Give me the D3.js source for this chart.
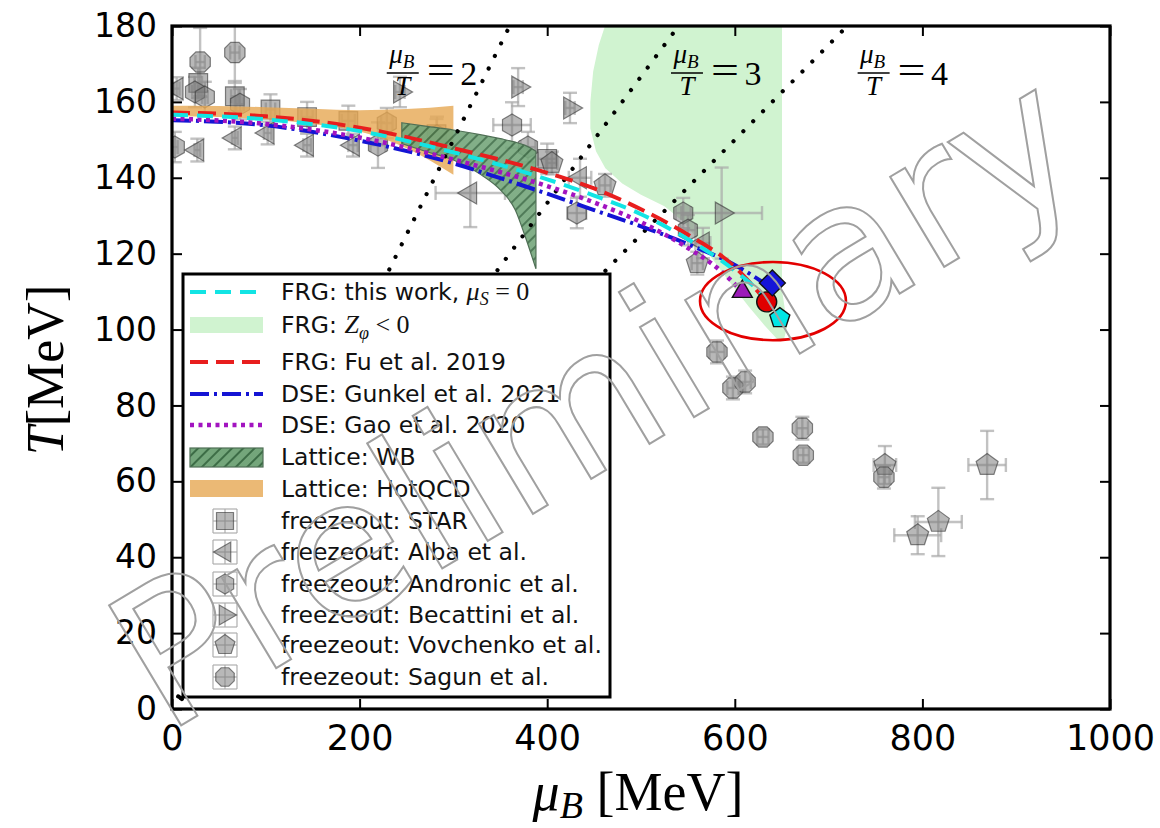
<!DOCTYPE html>
<html><head><meta charset="utf-8">
<script src="https://cdn.jsdelivr.net/npm/d3@7"></script>
<style>body{margin:0;background:#fff}svg{display:block}</style>
</head><body>
<svg id="c" width="1160" height="828"></svg>
<script>
// ---------------- data ----------------
const xTicks = [0, 200, 400, 600, 800, 1000];
const yTicks = [0, 20, 40, 60, 80, 100, 120, 140, 160, 180];
const ratioK = [2, 3, 4];

// phase boundaries (muB [MeV], T [MeV])
const frgMu = [0, 100, 200, 300, 400, 450, 500, 550, 600, 630, 648];
const frgT  = [156.6, 155.4, 152.3, 146.7, 139.6, 135.3, 130.4, 123.8, 115.5, 109, 103.5];
const fuMu  = [0, 100, 200, 300, 400, 450, 500, 550, 600, 635];
const fuT   = [157.2, 156.2, 153.2, 147.8, 141.3, 137.2, 131.7, 125, 116.5, 107];
const gunMu = [0, 100, 200, 300, 350, 400, 450, 500, 550, 600, 636];
const gunT  = [155.2, 153.8, 149.8, 143.8, 139.9, 135.8, 131.5, 127.2, 122.5, 117, 111.5];
const gaoMu = [0, 100, 200, 300, 400, 450, 500, 550, 580, 608];
const gaoT  = [155.6, 154.2, 150.6, 144.8, 137.8, 133.5, 128.3, 121.5, 116.5, 110];

// Z_phi < 0 region outline
const zphiMu = [461.6, 650.3, 650.3, 656, 652, 645, 632, 615, 596, 578, 563, 545, 525, 500, 480, 462, 452, 446, 446, 449, 455];
const zphiT  = [180, 180, 110.4, 101, 97, 97.5, 101, 106, 112, 118, 123, 128.5, 132.5, 135.5, 138.5, 142.5, 147, 153, 160, 168, 175];

// lattice bands
const hotMu = [0, 50, 100, 150, 200, 250, 300];
const hotUp = [159, 158.9, 158.6, 158.2, 157.8, 158.1, 159];
const hotLo = [156.3, 156, 155.4, 154.2, 152.2, 147.8, 140.8];
const wbMu  = [245, 270, 300, 330, 350, 366, 376, 388];
const wbUp  = [154.5, 153.6, 152.6, 151.3, 150.3, 149.4, 148.6, 147];
const wbLo  = [149, 147, 144.7, 140.7, 136.8, 131.5, 124.9, 116];

// freeze-out points [muB, T, dmuB, dT]
const star = [[28,165,4,4],[67,161.5,4,4],[105,158,5,4],[144,156,6,4],[188,155,7,4],[282,151.5,8,4],[400,145,10,4]];
const alba = [[5,163.5,3,3],[27,147.3,3,3],[67,150.5,3,3],[102,151.8,4,3],[144,148.6,4,3],[193,148.6,5,3],[318,136,37,9],[435,140,12,5],[566,122.8,8,4]];
const andronic = [[3,148.1,3,4],[24.5,162.6,3,4],[35,161.3,3,4],[72.5,159.4,4,4],[229,154.4,6,4],[219.6,148.6,8,6],[282.5,151.1,8,5],[362.5,153.9,20,6],[379.5,148.1,8,4],[431.6,130.7,10,4],[545,130.7,8,4],[550,126.2,8,4]];
const becattini = [[243,162.6,5,4],[369,163.9,5,5],[424.3,158.4,5,4],[586,130.7,43,12]];
const vovchenko = [[405,143.9,6,3],[461.6,138,6,3],[560,117.5,6,3],[760,64.3,12,5],[869,64.3,20,9],[817,49.3,25,9],[795,45.8,25,5]];
const sagun = [[30,170.5,5,9],[67,173,5,8],[581,94.1,8,3],[598,84.6,6,3],[611,86.2,6,3],[630,71.7,6,2],[672,74,6,3],[673,66.9,6,2],[759,61.1,6,3]];

// critical end points
const cepMu = [648, 634, 640, 608];
const cepT  = [103, 107.3, 112.3, 110];
const cepShape = ['pent', 'circle', 'diamond', 'triup'];
const cepColor = ['#00e6e6', '#e00000', '#1515d8', '#9b1bb8'];

// highlight ellipse (center muB, T ; radii in MeV)
const ellC = [640.7, 107.5], ellR = [77.8, 10.3];

// ---------------- setup ----------------
const svg = d3.select('#c');
const x = d3.scaleLinear().domain([0, 1000]).range([172, 1110]);
const y = d3.scaleLinear().domain([0, 180]).range([709, 26]);
const SANS = 'DejaVu Sans', SERIF = 'Liberation Serif';

const defs = svg.append('defs');
defs.append('clipPath').attr('id', 'clip').append('rect')
  .attr('x', x(0)).attr('y', y(180)).attr('width', x(1000) - x(0)).attr('height', y(0) - y(180));
const pat = defs.append('pattern').attr('id', 'hatch').attr('patternUnits', 'userSpaceOnUse')
  .attr('width', 8).attr('height', 8).attr('patternTransform', 'rotate(45)');
pat.append('rect').attr('width', 8).attr('height', 8).attr('fill', '#74a67b');
pat.append('line').attr('x1', 1).attr('y1', 0).attr('x2', 1).attr('y2', 8).attr('stroke', '#2e5e38').attr('stroke-width', 1.6);

function poly(n, r, rot) {
  const p = [];
  for (let i = 0; i < n; i++) {
    const a = (rot + i * 360 / n) * Math.PI / 180;
    p.push([r * Math.cos(a), r * Math.sin(a)]);
  }
  return 'M' + p.map(q => q[0].toFixed(2) + ',' + q[1].toFixed(2)).join('L') + 'Z';
}
const shapes = {
  square: r => poly(4, r * 1.2, 45),
  tril: r => poly(3, r * 1.15, 180),
  trir: r => poly(3, r * 1.15, 0),
  triup: r => poly(3, r * 1.15, -90),
  hex: r => poly(6, r, -90),
  pent: r => poly(5, r * 1.05, -90),
  oct: r => poly(8, r, 22.5),
  diamond: r => poly(4, r * 1.3, 0),
  circle: r => `M${r},0A${r},${r} 0 1,1 ${-r},0A${r},${r} 0 1,1 ${r},0Z`
};

const plot = svg.append('g').attr('clip-path', 'url(#clip)');

// Z_phi < 0 region
plot.append('path')
  .attr('d', d3.line().x((d, i) => x(zphiMu[i])).y((d, i) => y(zphiT[i]))(zphiMu) + 'Z')
  .attr('fill', '#d0f3d0');

// freeze-out points
const fz = [[star, 'square'], [alba, 'tril'], [andronic, 'hex'], [becattini, 'trir'], [vovchenko, 'pent'], [sagun, 'oct']];
const ebG = plot.append('g').attr('stroke', '#a8a8a8').attr('stroke-width', 2.4).attr('stroke-opacity', 0.7);
fz.forEach(([data]) => {
  data.forEach(d => {
    const cx = x(d[0]), cy = y(d[1]);
    const x0 = x(d[0] - d[2]), x1 = x(d[0] + d[2]), y0 = y(d[1] - d[3]), y1 = y(d[1] + d[3]);
    ebG.append('line').attr('x1', x0).attr('x2', x1).attr('y1', cy).attr('y2', cy);
    ebG.append('line').attr('x1', cx).attr('x2', cx).attr('y1', y0).attr('y2', y1);
    [x0, x1].forEach(v => ebG.append('line').attr('x1', v).attr('x2', v).attr('y1', cy - 7).attr('y2', cy + 7));
    [y0, y1].forEach(v => ebG.append('line').attr('y1', v).attr('y2', v).attr('x1', cx - 7).attr('x2', cx + 7));
  });
});
fz.forEach(([data, sh]) => {
  plot.append('g').selectAll('path').data(data).join('path')
    .attr('transform', d => `translate(${x(d[0])},${y(d[1])})`)
    .attr('d', shapes[sh](11))
    .attr('fill', '#7d7d7d').attr('fill-opacity', 0.55)
    .attr('stroke', '#333').attr('stroke-opacity', 0.6).attr('stroke-width', 1.2);
});

// lattice bands
const area = (mu, lo, up) => d3.area().x((d, i) => x(mu[i])).y0((d, i) => y(lo[i])).y1((d, i) => y(up[i])).curve(d3.curveMonotoneX)(mu);
plot.append('path').attr('d', area(hotMu, hotLo, hotUp)).attr('fill', '#e6a852').attr('fill-opacity', 0.8);
plot.append('path').attr('d', area(wbMu, wbLo, wbUp)).attr('fill', 'url(#hatch)').attr('fill-opacity', 0.9)
  .attr('stroke', '#4f6f55').attr('stroke-width', 1.2);

// mu/T ratio lines
ratioK.forEach(k => {
  plot.append('path').attr('d', d3.line().x(d => x(d[0])).y(d => y(d[1]))([[0, 0], [180 * k, 180]]))
    .attr('stroke', '#000').attr('stroke-width', 4.2).attr('stroke-linecap', 'round')
    .attr('stroke-dasharray', '0.01 14').attr('fill', 'none');
});

// phase boundary curves
const curves = [
  [gunMu, gunT, '#1414d4', '19 5 3 5', 4],
  [gaoMu, gaoT, '#a214c0', '4 4.5', 4.5],
  [fuMu, fuT, '#e81e1e', '18 8', 4],
  [frgMu, frgT, '#12e4e4', '16 9', 4]
];
curves.forEach(([mu, T, col, dash, w]) => {
  plot.append('path')
    .attr('d', d3.line().x((d, i) => x(mu[i])).y((d, i) => y(T[i])).curve(d3.curveMonotoneX)(mu))
    .attr('fill', 'none').attr('stroke', col).attr('stroke-width', w).attr('stroke-dasharray', dash);
});

// CEPs
cepMu.forEach((m, i) => {
  plot.append('path').attr('transform', `translate(${x(m)},${y(cepT[i])})`)
    .attr('d', shapes[cepShape[i]](10)).attr('fill', cepColor[i]).attr('stroke', '#111').attr('stroke-width', 1.4);
});

// ellipse
plot.append('ellipse').attr('cx', x(ellC[0])).attr('cy', y(ellC[1]))
  .attr('rx', x(ellR[0]) - x(0)).attr('ry', y(0) - y(ellR[1]))
  .attr('fill', 'none').attr('stroke', '#e30000').attr('stroke-width', 2.6);

// mu/T annotations (anchor muB of fraction centre)
const ann = [[246, 2], [549, 3], [748, 4]];
ann.forEach(([mu, k]) => {
  const cx = x(mu), ly = y(167.6);
  const g = svg.append('g').attr('font-family', SERIF).attr('fill', '#000');
  const num = g.append('text').attr('x', cx - 1).attr('y', ly - 10).attr('text-anchor', 'middle').attr('font-size', 27).attr('font-style', 'italic');
  num.append('tspan').text('μ');
  num.append('tspan').attr('dy', 5).attr('font-size', 19).text('B');
  g.append('line').attr('x1', cx - 16).attr('x2', cx + 16).attr('y1', ly).attr('y2', ly).attr('stroke', '#000').attr('stroke-width', 1.6);
  g.append('text').attr('x', cx).attr('y', ly + 22).attr('text-anchor', 'middle').attr('font-size', 27).attr('font-style', 'italic').text('T');
  g.append('text').attr('x', cx + 24).attr('y', ly + 10).attr('font-size', 38).attr('textLength', 28).attr('lengthAdjust', 'spacingAndGlyphs').text('=');
  g.append('text').attr('x', cx + 66).attr('y', ly + 12).attr('text-anchor', 'middle').attr('font-size', 34).text(k);
});

// ---------------- axes ----------------
function styleAxis(g, fs) {
  g.select('.domain').remove();
  g.selectAll('.tick line').attr('stroke', '#000').attr('stroke-width', 2);
  g.selectAll('.tick text').attr('font-size', fs).attr('font-family', SANS).attr('fill', '#000');
}
styleAxis(svg.append('g').attr('transform', `translate(0,${y(0)})`)
  .call(d3.axisBottom(x).tickValues(xTicks).tickSizeInner(-10).tickSizeOuter(0).tickPadding(16).tickFormat(d3.format('d'))), 35);
styleAxis(svg.append('g').attr('transform', `translate(0,${y(180)})`)
  .call(d3.axisTop(x).tickValues(xTicks).tickSizeInner(-10).tickSizeOuter(0).tickFormat('')), 10);
styleAxis(svg.append('g').attr('transform', `translate(${x(0)},0)`)
  .call(d3.axisLeft(y).tickValues(yTicks).tickSizeInner(-10).tickSizeOuter(0).tickPadding(15).tickFormat(d3.format('d'))), 33);
styleAxis(svg.append('g').attr('transform', `translate(${x(1000)},0)`)
  .call(d3.axisRight(y).tickValues(yTicks).tickSizeInner(-10).tickSizeOuter(0).tickFormat('')), 10);

svg.append('rect').attr('x', x(0)).attr('y', y(180)).attr('width', x(1000) - x(0)).attr('height', y(0) - y(180))
  .attr('fill', 'none').attr('stroke', '#000').attr('stroke-width', 3.2);

// axis titles
const xt = svg.append('text').attr('x', 638).attr('y', 810).attr('text-anchor', 'middle').attr('font-family', SERIF).attr('font-size', 54).attr('fill', '#000');
xt.append('tspan').attr('font-style', 'italic').text('μ');
xt.append('tspan').attr('font-style', 'italic').attr('font-size', 38).attr('dy', 8).text('B');
xt.append('tspan').attr('dy', -8).text(' [MeV]');
const yt = svg.append('text').attr('transform', 'translate(63,370) rotate(-90)').attr('text-anchor', 'middle').attr('font-family', SERIF).attr('font-size', 52).attr('fill', '#000');
yt.append('tspan').attr('font-style', 'italic').text('T');
yt.append('tspan').text('[MeV]');

// ---------------- legend ----------------
const lg = svg.append('g');
lg.append('rect').attr('x', 183).attr('y', 274).attr('width', 427).attr('height', 423)
  .attr('fill', '#fff').attr('stroke', '#000').attr('stroke-width', 3);
const hx0 = 190, hx1 = 263, tx = 281;
function ltext(yb) {
  return lg.append('text').attr('x', tx).attr('y', yb).attr('font-family', SANS).attr('font-size', 23.5).attr('fill', '#111');
}
function lline(yc, c) {
  lg.append('line').attr('x1', hx0).attr('x2', hx1).attr('y1', yc).attr('y2', yc)
    .attr('stroke', c[2]).attr('stroke-width', c[4]).attr('stroke-dasharray', c[3]);
}
lline(292, curves[3]);
let t = ltext(300); t.append('tspan').text('FRG: this work, ');
t.append('tspan').attr('font-family', SERIF).attr('font-style', 'italic').attr('font-size', 26).text('μ');
t.append('tspan').attr('font-family', SERIF).attr('font-style', 'italic').attr('font-size', 18).attr('dy', 5).text('S');
t.append('tspan').attr('font-family', SERIF).attr('font-size', 26).attr('dy', -5).text(' = 0');
lg.append('rect').attr('x', hx0).attr('y', 317).attr('width', hx1 - hx0).attr('height', 16).attr('fill', '#d0f3d0');
t = ltext(333); t.append('tspan').text('FRG: ');
t.append('tspan').attr('font-family', SERIF).attr('font-style', 'italic').attr('font-size', 26).text('Z');
t.append('tspan').attr('font-family', SERIF).attr('font-style', 'italic').attr('font-size', 18).attr('dy', 6).text('φ');
t.append('tspan').attr('font-family', SERIF).attr('font-size', 26).attr('dy', -6).text(' < 0');
lline(362, curves[2]); ltext(370).text('FRG: Fu et al. 2019');
lline(394, curves[0]); ltext(402).text('DSE: Gunkel et al. 2021');
lline(425, curves[1]); ltext(433).text('DSE: Gao et al. 2020');
lg.append('rect').attr('x', hx0).attr('y', 448).attr('width', hx1 - hx0).attr('height', 19)
  .attr('fill', 'url(#hatch)').attr('stroke', '#4f6f55').attr('stroke-width', 1.2);
ltext(465).text('Lattice: WB');
lg.append('rect').attr('x', hx0).attr('y', 480).attr('width', hx1 - hx0).attr('height', 17).attr('fill', '#e6a852').attr('fill-opacity', 0.8);
ltext(497).text('Lattice: HotQCD');
const fzNames = ['STAR', 'Alba et al.', 'Andronic et al.', 'Becattini et al.', 'Vovchenko et al.', 'Sagun et al.'];
const fzY = [521, 552, 584, 615, 645, 677];
fz.forEach(([d, sh], i) => {
  const cy = fzY[i], cx = 225;
  const g = lg.append('g').attr('stroke', '#a8a8a8').attr('stroke-width', 1.6).attr('stroke-opacity', 0.7);
  g.append('line').attr('x1', cx - 12).attr('x2', cx + 12).attr('y1', cy).attr('y2', cy);
  g.append('line').attr('x1', cx).attr('x2', cx).attr('y1', cy - 12).attr('y2', cy + 12);
  [cx - 12, cx + 12].forEach(v => g.append('line').attr('x1', v).attr('x2', v).attr('y1', cy - 12).attr('y2', cy + 12));
  [cy - 12, cy + 12].forEach(v => g.append('line').attr('y1', v).attr('y2', v).attr('x1', cx - 12).attr('x2', cx + 12));
  lg.append('path').attr('transform', `translate(${cx},${cy})`).attr('d', shapes[sh](10))
    .attr('fill', '#7d7d7d').attr('fill-opacity', 0.55).attr('stroke', '#333').attr('stroke-opacity', 0.6).attr('stroke-width', 1.2);
  ltext(cy + 8).text('freezeout: ' + fzNames[i]);
});

// ---------------- watermark ----------------
svg.append('text').attr('transform', 'translate(165,735) rotate(-31)')
  .attr('font-family', SANS).attr('font-size', 192).attr('fill', 'none')
  .attr('stroke', '#a0a0a0').attr('stroke-width', 2).text('Preliminary');
</script>
</body></html>
